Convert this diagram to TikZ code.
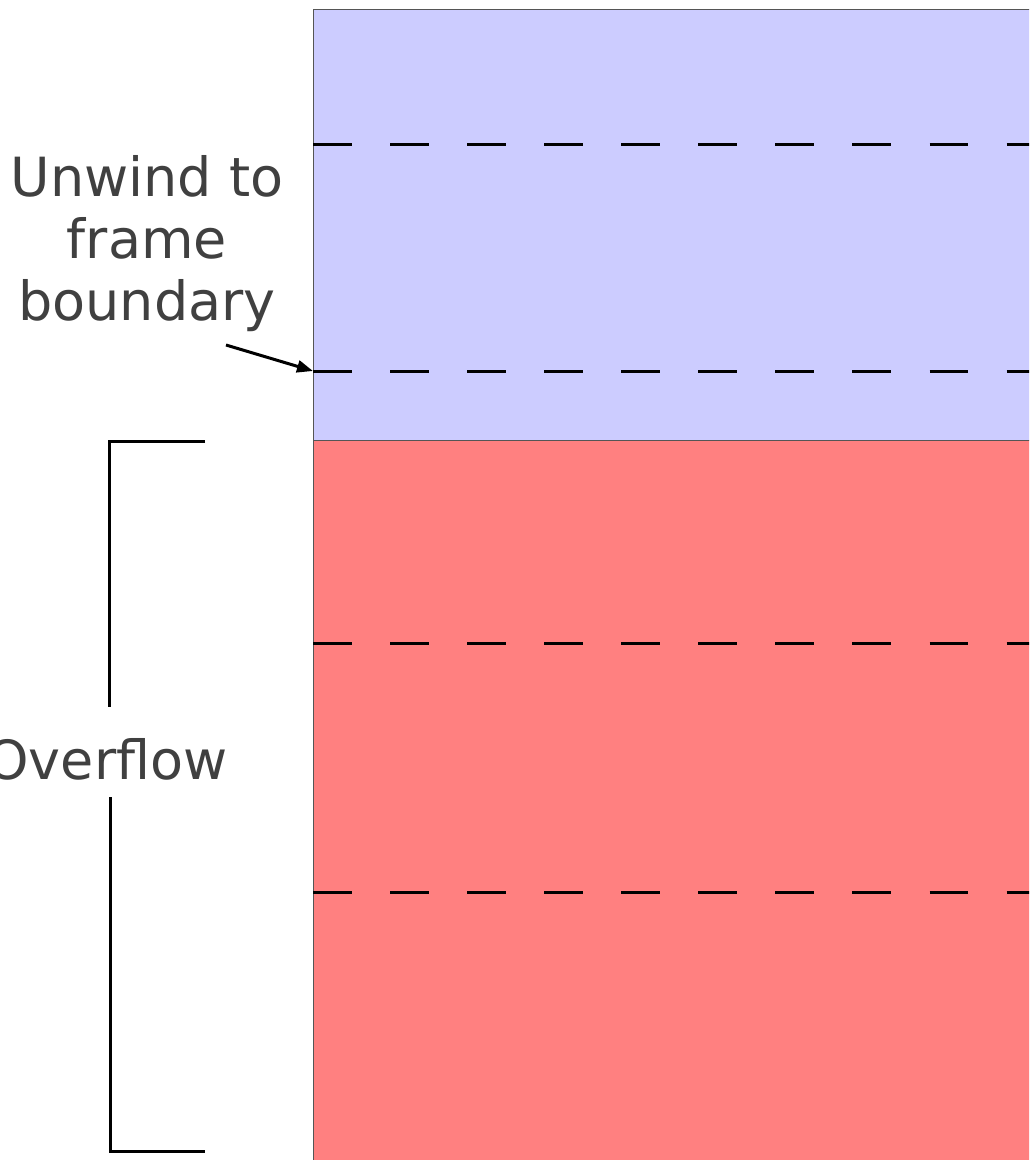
\documentclass[tikz,border=0pt]{standalone}
\usepackage{fontspec}
\setmainfont{DejaVu Sans}
\usetikzlibrary{arrows.meta}
\definecolor{stackblue}{HTML}{CCCCFF}
\definecolor{stackred}{HTML}{FF8080}
\definecolor{txtgray}{HTML}{404040}
\definecolor{edgegray}{HTML}{555555}
\begin{document}
\begin{tikzpicture}[x=0.75pt,y=-0.75pt,
  region/.style={draw=edgegray,line width=0.75pt},
  boundary/.style={line width=2.25pt,dash pattern=on 28.9pt off 28.9pt},
  bracketline/.style={line width=2.25pt},
  label/.style={text=txtgray,font=\fontsize{40.5pt}{46.5pt}\selectfont,inner sep=0pt,align=center}]
\useasboundingbox (0,0) rectangle (1029,1160);
\clip (0,0) rectangle (1029,1160);
% regions
\fill[stackblue] (313,9) rectangle (1040,440);
\fill[stackred] (313,440) rectangle (1040,1170);
\draw[region] (1040,9) -- (313,9) -- (313,1170);
\draw[region] (313,440) -- (1040,440);
% frame boundaries
\coordinate (b1s) at (313,144); \coordinate (b1e) at (1040,144);
\coordinate (b2s) at (313,371); \coordinate (b2e) at (1040,371);
\coordinate (b3s) at (313,643); \coordinate (b3e) at (1040,643);
\coordinate (b4s) at (313,892); \coordinate (b4e) at (1040,892);
\draw[boundary] (b1s) -- (b1e);
\draw[boundary] (b2s) -- (b2e);
\draw[boundary] (b3s) -- (b3e);
\draw[boundary] (b4s) -- (b4e);
% labels
\node[label] (unwind) at (147,244) {Unwind to\\frame\\boundary};
\node[label,anchor=base] (overflow) at (107,779) {Overflow};
% arrow
\coordinate (astart) at (226,345);
\draw[line width=2.25pt,-{Stealth[length=12pt,width=9pt,inset=0pt]}] (astart) -- (b2s);
% bracket
\coordinate (bt) at (205,441);
\coordinate (bb) at (205,1151);
\draw[bracketline] (bt) -- (109,441) -- (109,707);
\draw[bracketline] (110,797) -- (110,1151) -- (bb);
\end{tikzpicture}
\end{document}
